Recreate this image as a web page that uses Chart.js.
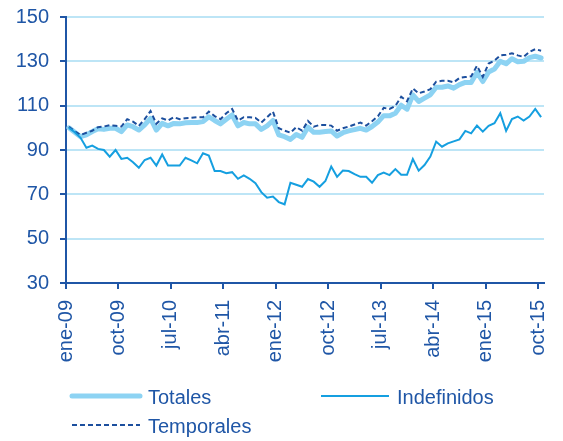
<!DOCTYPE html>
<html>
<head>
<meta charset="utf-8">
<script src="https://cdn.jsdelivr.net/npm/chart.js@4.4.1/dist/chart.umd.min.js"></script>
<style>
  html, body { margin:0; padding:0; background:#fff; }
</style>
</head>
<body>
<canvas id="chart" width="563" height="441"></canvas>
<script>
// ---- data (index 100) ----
const MONTH_NAMES = ['ene','feb','mar','abr','may','jun','jul','ago','sep','oct','nov','dic'];
const months = [];   // ene-09 .. oct-15, 82 months
for (let y = 9; y <= 15; y++) {
  MONTH_NAMES.forEach((m, k) => {
    if (y < 15 || k <= 9) months.push(m + '-' + String(y).padStart(2, '0'));
  });
}

const totales = [
  100, 98, 96, 96.8, 98.3, 99.6, 99.3, 99.8, 99.8, 98.3,
  101.3, 100.5, 99, 101.3, 104.3, 99, 102, 100.9, 102, 101.8,
  102.3, 102.4, 102.4, 102.8, 105, 103.3, 101.8, 103.9, 105.8, 100.9,
  102.4, 101.8, 101.8, 99.3, 100.9, 103.3, 96.8, 96, 94.8, 97,
  95.7, 100.3, 98, 98, 98.3, 98.6, 96.3, 97.8, 98.6, 99.2,
  99.8, 99, 100.6, 102.6, 105.5, 105.4, 106.6, 110.2, 108.4, 114.9,
  111.9, 113.4, 114.9, 118.3, 118.3, 118.9, 117.9, 119.5, 120.5, 120.5,
  125, 120.9, 125.2, 126.5, 130, 128.9, 131.2, 129.8, 130, 131.7,
  132.3, 131.5
];
const indefinidos = [
  100, 98, 95.5, 91, 92, 90.5, 90, 87, 90, 86,
  86.5, 84.5, 82, 85.5, 86.5, 83, 88, 83, 83, 83,
  86.5, 85.3, 84, 88.5, 87.5, 80.5, 80.5, 79.5, 80, 77,
  78.5, 77, 75, 71, 68.5, 69, 66.5, 65.5, 75.2, 74.3,
  73.4, 76.9, 75.7, 73.4, 76, 82.5, 77.9, 80.7, 80.5, 79.1,
  77.9, 77.9, 75.2, 78.7, 79.8, 78.7, 81.4, 78.8, 78.8, 85.9,
  80.7, 83.2, 87, 93.8, 91.5, 93, 93.9, 94.8, 98.6, 97.5,
  101, 98.3, 100.9, 102.1, 106.6, 98.6, 104, 105.1, 103.3, 105.1,
  108.5, 104.8
];
const temporales = [
  100.5, 98.5, 96.8, 97.8, 98.7, 100.3, 100.6, 101.2, 100.9, 100.6,
  103.9, 102.8, 100.9, 103.9, 107.6, 101.8, 104.3, 103.3, 104.8, 103.9,
  104.3, 104.5, 104.8, 104.8, 107.3, 105.3, 103.9, 106.6, 108.5, 103.3,
  104.8, 104.8, 104.5, 102.4, 104.8, 107.3, 99.8, 98.7, 97.8, 100.3,
  98.7, 103.1, 100.5, 101.3, 101.3, 101, 98.7, 99.8, 100.6, 101.5,
  102.4, 101, 103, 105.2, 109, 108.5, 109.9, 114, 112, 117.8,
  115.6, 116.4, 117.4, 120.8, 121.2, 121.2, 120.5, 122.5, 122.9, 123.2,
  128, 123, 129, 130.3, 132.7, 133, 133.6, 132.7, 132, 134.3,
  135.5, 134.8
];
const yMin = 30, yMax = 150, yStep = 20;
const xTickEvery = 9;   // ene-09, oct-09, jul-10 ...

// ---- style ----
const BLUE = '#1f56a6';
const GRID = '#bde5f6';
const FONT = '"Liberation Sans", Arial, sans-serif';

// points sit in the middle of each month slot
const toPoints = arr => arr.map((v, i) => ({ x: i + 0.5, y: v }));

// legend in two columns, like the original
const gridLegend = {
  id: 'gridLegend',
  afterDraw(chart) {
    const c = chart.ctx;
    const slots = [[72, 396], [321, 396], [72, 425]];
    chart.data.datasets.forEach((ds, k) => {
      const [x, y] = slots[k];
      c.save();
      c.strokeStyle = ds.borderColor;
      c.lineWidth = ds.borderWidth;
      c.lineCap = ds.borderWidth > 3 ? 'round' : 'butt';
      c.setLineDash(ds.borderDash || []);
      c.beginPath(); c.moveTo(x, y); c.lineTo(x + 68, y); c.stroke();
      c.setLineDash([]);
      c.fillStyle = BLUE;
      c.font = '20px ' + FONT;
      c.textBaseline = 'middle';
      c.fillText(ds.label, x + 76, y + 2);
      c.restore();
    });
  }
};

new Chart(document.getElementById('chart'), {
  type: 'line',
  data: {
    datasets: [
      { label: 'Totales', data: toPoints(totales), borderColor: '#8dd3f3', borderWidth: 5,
        borderJoinStyle: 'round', borderCapStyle: 'round', order: 3 },
      { label: 'Indefinidos', data: toPoints(indefinidos), borderColor: '#159fe0', borderWidth: 2, order: 1 },
      { label: 'Temporales', data: toPoints(temporales), borderColor: '#1c4f9e', borderWidth: 2,
        borderDash: [5, 3], order: 2 }
    ]
  },
  options: {
    responsive: false,
    animation: false,
    devicePixelRatio: 1,
    layout: { padding: { top: 17, right: 19, bottom: 74, left: 0 } },
    elements: { point: { radius: 0 }, line: { tension: 0, fill: false } },
    plugins: { legend: { display: false }, tooltip: { enabled: false } },
    scales: {
      x: {
        type: 'linear', min: 0, max: months.length,
        afterBuildTicks: s => {
          s.ticks = months.map((m, i) => i).filter(i => i % xTickEvery === 0).map(v => ({ value: v }));
        },
        afterFit: s => { s.height = 84; s.paddingLeft = 0; s.paddingRight = 0; },
        grid: { drawOnChartArea: false, drawTicks: true, tickLength: 6, tickColor: BLUE, lineWidth: 2 },
        border: { color: BLUE, width: 2 },
        ticks: {
          color: BLUE, font: { family: FONT, size: 20 },
          minRotation: 90, maxRotation: 90, autoSkip: false, padding: 11,
          callback: v => months[v]
        }
      },
      y: {
        min: yMin, max: yMax,
        afterFit: s => { s.width = 66; s.paddingTop = 0; s.paddingBottom = 0; },
        grid: { color: GRID, lineWidth: 2, tickColor: BLUE, tickLength: 6 },
        border: { color: BLUE, width: 2 },
        ticks: { stepSize: yStep, color: BLUE, font: { family: FONT, size: 20 }, padding: 11 }
      }
    }
  },
  plugins: [gridLegend]
});
</script>
</body>
</html>
